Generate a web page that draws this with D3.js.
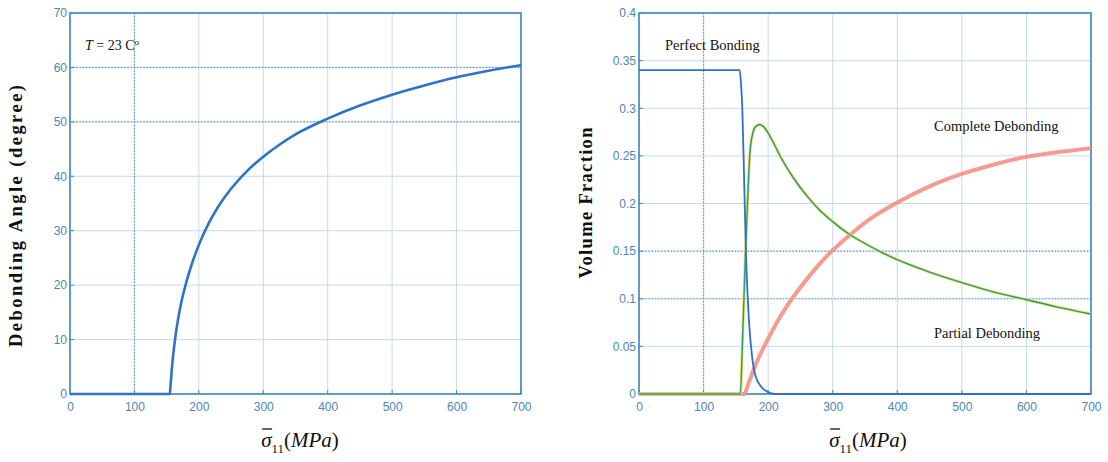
<!DOCTYPE html>
<html>
<head>
<meta charset="utf-8">
<script src="https://cdn.jsdelivr.net/npm/d3@7"></script>
<style>
  body { margin: 0; background: #fff; }
  svg { display: block; }
  .tick text { font-family: "Liberation Sans", Arial, sans-serif; font-size: 12px; fill: #4d86b6; }
  .lbl { font-family: "Liberation Serif", "Times New Roman", serif; fill: #111; }
</style>
</head>
<body>
<svg width="1108" height="462"></svg>
<script>
// ---- data ----
let stress_ticks = [0, 100, 200, 300, 400, 500, 600, 700];
let angle_ticks = [0, 10, 20, 30, 40, 50, 60, 70];
let frac_ticks = [0, 0.05, 0.1, 0.15, 0.2, 0.25, 0.3, 0.35, 0.4];

// left: debonding angle vs stress
let angle_x = [0, 155, 156, 158, 160, 163, 166, 170, 175, 180, 190, 200, 215, 230, 250, 275, 300, 325, 350, 400, 450, 500, 550, 600, 650, 700];
let angle_y = [0, 0, 1.5, 4.5, 7, 10, 12.5, 15.2, 18, 20.3, 24.2, 27.4, 31.3, 34.4, 37.7, 41, 43.6, 45.8, 47.7, 50.6, 53, 55, 56.7, 58.2, 59.4, 60.4];

// right: volume fractions vs stress
let perfect_x = [0, 156, 158, 160, 163, 166, 170, 175, 180, 190, 200, 210, 700];
let perfect_y = [0.34, 0.34, 0.325, 0.30, 0.22, 0.14, 0.08, 0.04, 0.02, 0.007, 0.002, 0, 0];

let partial_x = [0, 157, 160, 162.5, 165, 168, 172, 176, 181, 187, 195, 205, 220, 240, 260, 280, 300, 325, 350, 375, 400, 450, 500, 550, 600, 650, 700];
let partial_y = [0, 0, 0.05, 0.1, 0.15, 0.2, 0.255, 0.273, 0.281, 0.283, 0.279, 0.268, 0.248, 0.226, 0.208, 0.193, 0.181, 0.168, 0.158, 0.149, 0.141, 0.128, 0.117, 0.107, 0.099, 0.091, 0.084];

let complete_x = [0, 163, 170, 180, 200, 225, 250, 275, 300, 325, 350, 400, 450, 500, 550, 600, 650, 700];
let complete_y = [0, 0, 0.012, 0.03, 0.058, 0.088, 0.112, 0.133, 0.151, 0.166, 0.18, 0.201, 0.218, 0.231, 0.241, 0.249, 0.254, 0.258];

let svg = d3.select("svg");

function zip(xs, ys) { return xs.map(function(x, i) { return [x, ys[i]]; }); }

function drawPanel(opt) {
  let x = d3.scaleLinear().domain([0, 700]).range([opt.left, opt.right]);
  let y = d3.scaleLinear().domain(opt.ydomain).range([opt.bottom, opt.top]);
  let g = svg.append("g");

  // grid
  g.selectAll("line.gx").data(opt.xticks).enter().append("line")
    .attr("x1", function(d) { return x(d); }).attr("x2", function(d) { return x(d); })
    .attr("y1", opt.top).attr("y2", opt.bottom)
    .attr("stroke", "#c4dbee").attr("stroke-width", 1);
  g.selectAll("line.gy").data(opt.yticks).enter().append("line")
    .attr("y1", function(d) { return y(d); }).attr("y2", function(d) { return y(d); })
    .attr("x1", opt.left).attr("x2", opt.right)
    .attr("stroke", "#c4dbee").attr("stroke-width", 1);

  // a few grid lines look dotted in the scan
  g.selectAll("line.dx").data(opt.dottedX).enter().append("line")
    .attr("x1", function(d) { return x(d); }).attr("x2", function(d) { return x(d); })
    .attr("y1", opt.top).attr("y2", opt.bottom)
    .attr("stroke", "#4f8cc2").attr("stroke-width", 1.2).attr("stroke-dasharray", "1.2,2");
  g.selectAll("line.dy").data(opt.dottedY).enter().append("line")
    .attr("y1", function(d) { return y(d); }).attr("y2", function(d) { return y(d); })
    .attr("x1", opt.left).attr("x2", opt.right)
    .attr("stroke", "#4f8cc2").attr("stroke-width", 1.2).attr("stroke-dasharray", "1.2,2");

  // axes (labels only, frame drawn separately)
  let xa = g.append("g").attr("transform", "translate(0," + opt.bottom + ")")
    .call(d3.axisBottom(x).tickValues(opt.xticks).tickSize(0).tickPadding(8).tickFormat(d3.format("d")));
  let ya = g.append("g").attr("transform", "translate(" + opt.left + ",0)")
    .call(d3.axisLeft(y).tickValues(opt.yticks).tickSize(0).tickPadding(3).tickFormat(opt.yfmt));
  xa.select(".domain").remove();
  ya.select(".domain").remove();

  // inner ticks
  g.selectAll("line.tx").data(opt.xticks).enter().append("line")
    .attr("x1", function(d) { return x(d); }).attr("x2", function(d) { return x(d); })
    .attr("y1", opt.bottom).attr("y2", opt.bottom - 4)
    .attr("stroke", "#3f88c2");
  g.selectAll("line.ty").data(opt.yticks).enter().append("line")
    .attr("y1", function(d) { return y(d); }).attr("y2", function(d) { return y(d); })
    .attr("x1", opt.left).attr("x2", opt.left + 4)
    .attr("stroke", "#3f88c2");

  // frame
  g.append("rect")
    .attr("x", opt.left).attr("y", opt.top)
    .attr("width", opt.right - opt.left).attr("height", opt.bottom - opt.top)
    .attr("fill", "none").attr("stroke", "#3f88c2").attr("stroke-width", 1.6);

  return { g: g, x: x, y: y };
}

function drawLine(p, pts, color, width) {
  let line = d3.line()
    .x(function(d) { return p.x(d[0]); })
    .y(function(d) { return p.y(d[1]); })
    .curve(d3.curveMonotoneX);
  return p.g.append("path").datum(pts)
    .attr("d", line)
    .attr("fill", "none")
    .attr("stroke", color)
    .attr("stroke-width", width)
    .attr("stroke-linejoin", "round");
}

function xLabel(cx) {
  let t = svg.append("text").attr("class", "lbl")
    .attr("x", cx).attr("y", 447).attr("text-anchor", "middle")
    .style("font-size", "21px");
  t.append("tspan").style("font-style", "italic").text("σ");
  t.append("tspan").attr("dy", 6).style("font-size", "13px").text("11");
  t.append("tspan").attr("dy", -6).text("(");
  t.append("tspan").style("font-style", "italic").text("MPa");
  t.append("tspan").text(")");
  // overbar on sigma
  let bb = t.node().getBBox();
  svg.append("line")
    .attr("x1", bb.x + 1).attr("x2", bb.x + 11)
    .attr("y1", 429).attr("y2", 429)
    .attr("stroke", "#111").attr("stroke-width", 1.3);
}

function yLabel(cx, cy, txt, len) {
  svg.append("text").attr("class", "lbl")
    .attr("transform", "translate(" + cx + "," + cy + ") rotate(-90)")
    .attr("text-anchor", "middle")
    .attr("textLength", len).attr("lengthAdjust", "spacing")
    .style("font-size", "18.5px").style("font-weight", "bold")
    .text(txt);
}

function note(x, y, txt) {
  return svg.append("text").attr("class", "lbl")
    .attr("x", x).attr("y", y).style("font-size", "14.5px").text(txt);
}

// ---- left panel ----
let left = drawPanel({
  left: 70, right: 521, top: 13, bottom: 394,
  ydomain: [0, 70], xticks: stress_ticks, yticks: angle_ticks,
  dottedX: [100], dottedY: [60, 50],
  yfmt: d3.format("d")
});
drawLine(left, zip(angle_x, angle_y), "#2f72c6", 2.6);

let tnote = svg.append("text").attr("class", "lbl")
  .attr("x", 85).attr("y", 50).style("font-size", "14px");
tnote.append("tspan").style("font-style", "italic").text("T");
tnote.append("tspan").text(" = 23 C");
tnote.append("tspan").attr("dy", -5).style("font-size", "9px").text("o");

yLabel(22, 216, "Debonding Angle (degree)", 262);
xLabel(300);

// ---- right panel ----
let right = drawPanel({
  left: 639, right: 1091, top: 13, bottom: 394,
  ydomain: [0, 0.4], xticks: stress_ticks, yticks: frac_ticks,
  dottedX: [100], dottedY: [0.15, 0.1],
  yfmt: function(d) { return d === 0 ? "0" : d3.format("")(+d.toFixed(2)); }
});
drawLine(right, zip(complete_x, complete_y), "#f49088", 4).attr("stroke-opacity", 0.9);
drawLine(right, zip(partial_x, partial_y), "#e6e27a", 3);
drawLine(right, zip(partial_x, partial_y), "#2f9a6a", 1.4);
drawLine(right, zip(perfect_x, perfect_y), "#2f6fd0", 1.8);

note(665, 50, "Perfect Bonding");
note(934, 131, "Complete Debonding");
note(934, 338, "Partial Debonding");

yLabel(592, 203, "Volume Fraction", 151);
xLabel(868);
</script>
</body>
</html>
